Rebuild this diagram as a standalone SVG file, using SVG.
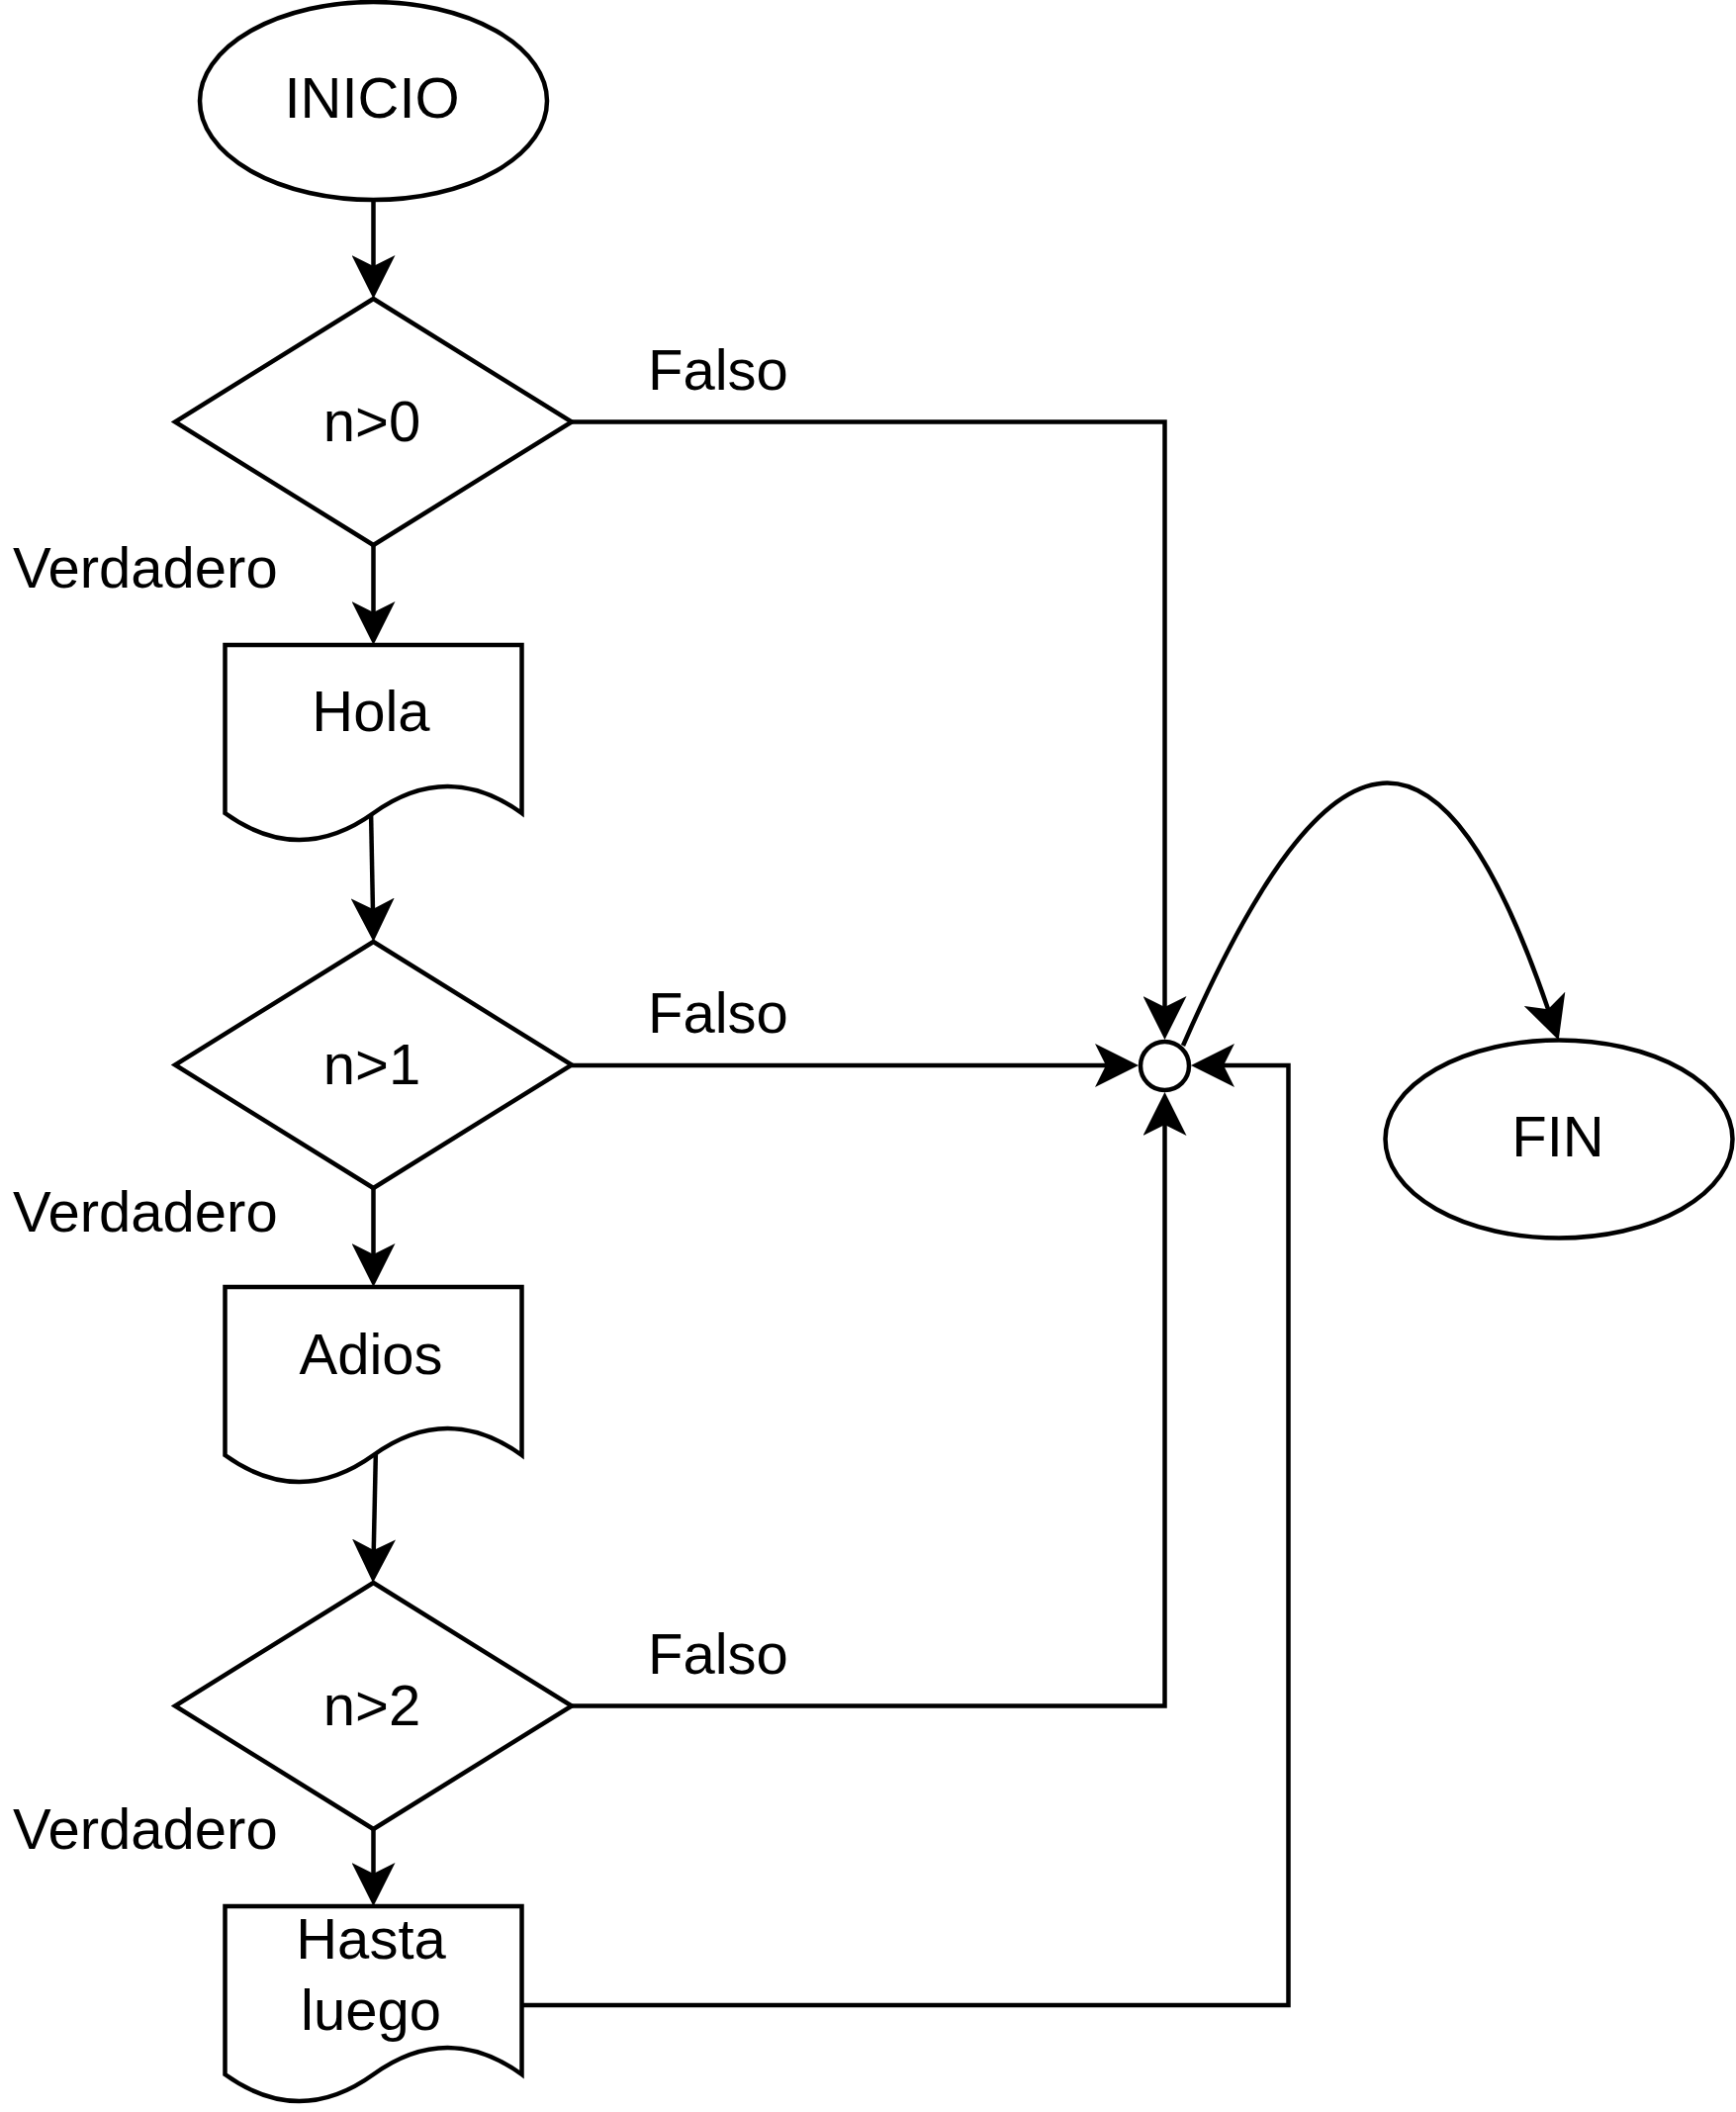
<svg xmlns="http://www.w3.org/2000/svg" width="1755" height="2135" viewBox="0 0 1755 2135">
<style>
.shape{fill:#fff;stroke:#000;stroke-width:4.5}
.edge{fill:none;stroke:#000;stroke-width:4.5}
.t{font-family:"Liberation Sans",Arial,sans-serif;font-size:58px;fill:#000}
.c{text-anchor:middle}
</style>
<defs>
<marker id="arr" markerUnits="userSpaceOnUse" viewBox="0 0 44 44" markerWidth="44" markerHeight="44" refX="14" refY="22" orient="auto">
<path d="M0,0 L44,22 L0,44 L11,22 Z" fill="#000"/>
</marker>
</defs>
<rect width="1755" height="2135" fill="#fff"/>
<g id="connectors">
<path class="edge" d="M377.5,202 V272" marker-end="url(#arr)"/>
<path class="edge" d="M377.5,551 V622" marker-end="url(#arr)"/>
<path class="edge" d="M375,818 L377,922" marker-end="url(#arr)"/>
<path class="edge" d="M377.5,1201 V1271" marker-end="url(#arr)"/>
<path class="edge" d="M380,1463 L377.7,1570" marker-end="url(#arr)"/>
<path class="edge" d="M377.5,1849 V1897" marker-end="url(#arr)"/>
<path class="edge" d="M578,426.5 H1177.5 V1021" marker-end="url(#arr)"/>
<path class="edge" d="M578,1077 H1121" marker-end="url(#arr)"/>
<path class="edge" d="M578,1724.5 H1177.5 V1134" marker-end="url(#arr)"/>
<path class="edge" d="M527.5,2027 H1302.5 V1077 H1234" marker-end="url(#arr)"/>
<path class="edge" d="M1196,1057 C1348,709 1459,709 1566,1023" marker-end="url(#arr)"/>
</g>
<g id="inicio">
<ellipse class="shape" cx="377.5" cy="102" rx="175.5" ry="100"/>
<text class="t c" x="376" y="119">INICIO</text>
</g>
<g id="cond0">
<polygon class="shape" points="377.5,302 578,426.5 377.5,551 177,426.5"/>
<text class="t c" x="376" y="446">n&gt;0</text>
</g>
<g id="hola">
<path class="shape" d="M227.5,652 H527.5 V822 Q452.5,768 377.5,822 Q302.5,876 227.5,822 Z"/>
<text class="t c" x="375" y="739">Hola</text>
</g>
<g id="cond1">
<polygon class="shape" points="377.5,952 578,1076.5 377.5,1201 177,1076.5"/>
<text class="t c" x="376" y="1096">n&gt;1</text>
</g>
<g id="adios">
<path class="shape" d="M227.5,1301 H527.5 V1471 Q452.5,1417 377.5,1471 Q302.5,1525 227.5,1471 Z"/>
<text class="t c" x="375" y="1389">Adios</text>
</g>
<g id="cond2">
<polygon class="shape" points="377.5,1600 578,1724.5 377.5,1849 177,1724.5"/>
<text class="t c" x="376" y="1744">n&gt;2</text>
</g>
<g id="hasta">
<path class="shape" d="M227.5,1927 H527.5 V2097 Q452.5,2043 377.5,2097 Q302.5,2151 227.5,2097 Z"/>
<text class="t c" x="375" y="1980">Hasta</text>
<text class="t c" x="375" y="2052">luego</text>
</g>
<g id="junction">
<circle class="shape" cx="1177.5" cy="1077.5" r="24.5"/>
</g>
<g id="fin">
<ellipse class="shape" cx="1576" cy="1151.5" rx="175.5" ry="100"/>
<text class="t c" x="1575" y="1169">FIN</text>
</g>
<g id="labels">
<text class="t" x="655" y="394">Falso</text>
<text class="t" x="655" y="1044">Falso</text>
<text class="t" x="655" y="1692">Falso</text>
<text class="t" x="13" y="594">Verdadero</text>
<text class="t" x="13" y="1245">Verdadero</text>
<text class="t" x="13" y="1869">Verdadero</text>
</g>
</svg>
